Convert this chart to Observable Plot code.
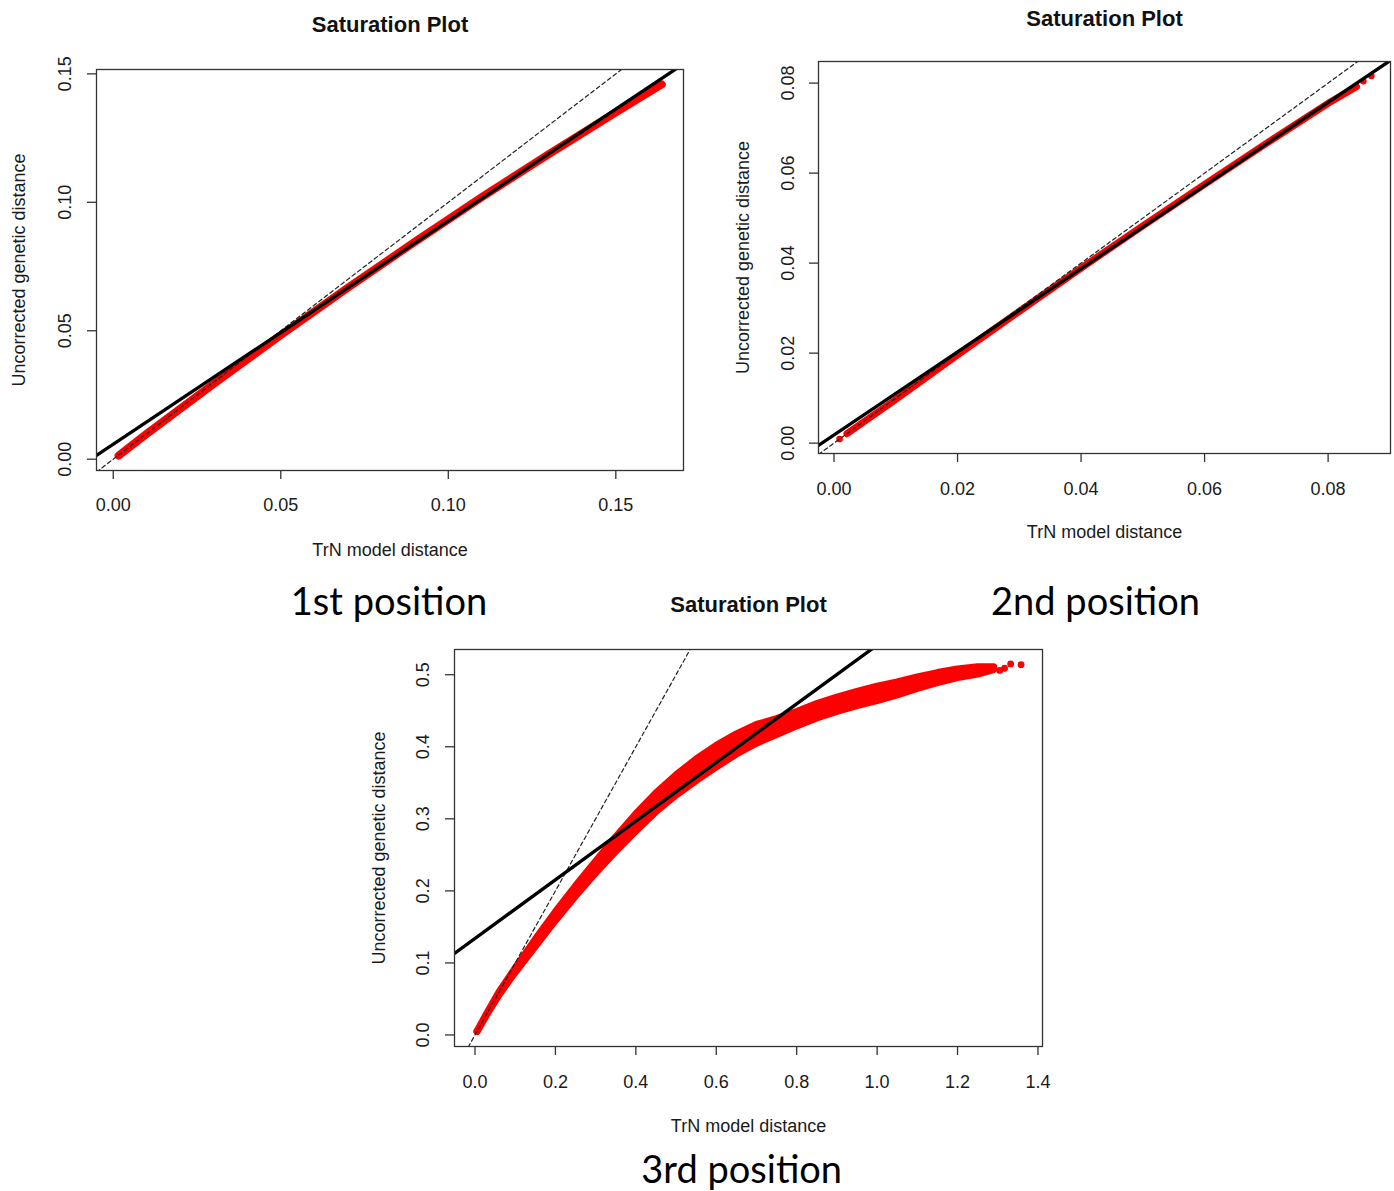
<!DOCTYPE html>
<html>
<head>
<meta charset="utf-8">
<script src="https://cdn.jsdelivr.net/npm/d3@7"></script>
<script src="https://cdn.jsdelivr.net/npm/@observablehq/plot@0.6"></script>
<style>
  body { margin: 0; background: #fff; }
  #page { position: relative; width: 1394px; height: 1191px; overflow: hidden; background: #fff; }
  #page > svg, #page > figure { position: absolute; margin: 0; }
</style>
</head>
<body>
<div id="page"></div>
<script>
// ---- 1st codon position: TrN distance vs uncorrected p-distance ----
const p1XTicks = [0, 0.05, 0.10, 0.15];
const p1YTicks = [0, 0.05, 0.10, 0.15];
const p1Dist = [0.0016, 0.01, 0.03, 0.05, 0.07, 0.09, 0.11, 0.13, 0.15, 0.1637];
const p1P    = [0.0014, 0.0099, 0.0294, 0.0483, 0.0667, 0.0846, 0.1020, 0.1188, 0.1350, 0.1459];
const p1Fit  = [0.0058, 0.870];          // regression intercept, slope

// ---- 2nd codon position ----
const p2XTicks = [0, 0.02, 0.04, 0.06, 0.08];
const p2YTicks = [0, 0.02, 0.04, 0.06, 0.08];
const p2Dist = [0.0021, 0.01, 0.02, 0.03, 0.04, 0.05, 0.06, 0.07, 0.08, 0.0846];
const p2P    = [0.0021, 0.0097, 0.0196, 0.0293, 0.0389, 0.0483, 0.0575, 0.0666, 0.0755, 0.0792];
const p2LooseDist = [0.0009, 0.0857, 0.0870];
const p2LooseP    = [0.0009, 0.0804, 0.0816];
const p2Fit  = [0.0018, 0.924];

// ---- 3rd codon position (dense cloud: lower / upper edge of the point band) ----
const p3XTicks = [0, 0.2, 0.4, 0.6, 0.8, 1.0, 1.2, 1.4];
const p3YTicks = [0, 0.1, 0.2, 0.3, 0.4, 0.5];
const p3Dist = [0.005, 0.03, 0.06, 0.10, 0.15, 0.20, 0.25, 0.30, 0.35, 0.40, 0.45, 0.50, 0.55, 0.60,
                0.65, 0.70, 0.75, 0.80, 0.85, 0.90, 0.95, 1.00, 1.05, 1.10, 1.15, 1.20, 1.25, 1.29];
const p3Lo   = [0.005, 0.029, 0.056, 0.087, 0.123, 0.159, 0.193, 0.225, 0.255, 0.283, 0.310, 0.333, 0.353, 0.372,
                0.390, 0.405, 0.417, 0.429, 0.440, 0.449, 0.457, 0.464, 0.472, 0.481, 0.489, 0.496, 0.501, 0.507];
const p3Hi   = [0.005, 0.031, 0.060, 0.093, 0.133, 0.171, 0.207, 0.241, 0.275, 0.307, 0.336, 0.361, 0.383, 0.402,
                0.418, 0.431, 0.439, 0.449, 0.460, 0.469, 0.477, 0.484, 0.490, 0.497, 0.503, 0.508, 0.511, 0.511];
const p3LooseDist = [1.305, 1.317, 1.332, 1.358];
const p3LooseP    = [0.506, 0.509, 0.515, 0.514];
const p3Fit  = [0.134, 0.407];

const oneToOne = [0, 1];                  // y = x reference line

const captions = ["1st position", "2nd position", "3rd position"];

const FONT = '"Liberation Sans", Arial, Helvetica, sans-serif';
const RED = "#ff0000";
const INK = "#1a1a1a";
const fmt2 = d3.format(".2f");
const fmt1 = d3.format(".1f");

const rows = (xs, ys) => xs.map((x, i) => ({x, y: ys[i]}));
const ablineRows = (fit, dom) => dom.map(x => ({x, y: fit[0] + fit[1] * x}));

function refLines(fit, xDomain) {
  return [
    Plot.line(ablineRows(oneToOne, xDomain), {x: "x", y: "y", stroke: "#222", strokeWidth: 1.2, strokeDasharray: "4,3", clip: true}),
    Plot.line(ablineRows(fit, xDomain), {x: "x", y: "y", stroke: "#000", strokeWidth: 3.3, clip: true})
  ];
}

function saturationPanel(o) {
  const chart = Plot.plot({
    width: o.ml + o.fw + o.mr,
    height: o.mt + o.fh + o.mb,
    marginLeft: o.ml, marginRight: o.mr, marginTop: o.mt, marginBottom: o.mb,
    x: {domain: o.xDomain},
    y: {domain: o.yDomain},
    style: {fontFamily: FONT, fontSize: "18px", color: INK, background: "transparent", overflow: "visible"},
    marks: [
      ...o.marks,
      ...refLines(o.fit, o.xDomain),
      Plot.frame({stroke: "#333", strokeWidth: 1.3}),
      Plot.axisX(o.xTicks, {tickSize: 9, tickFormat: () => "", label: null, stroke: "#333", strokeWidth: 1.3}),
      Plot.axisY(o.yTicks, {tickSize: 9, tickFormat: () => "", label: null, stroke: "#333", strokeWidth: 1.3}),
      Plot.text(o.xTicks, {x: d => d, text: o.xFmt, frameAnchor: "bottom", dy: o.xTickGap,
        textAnchor: "middle", lineAnchor: "bottom", fontSize: 18, fill: INK}),
      Plot.text(o.yTicks, {y: d => d, text: o.yFmt, frameAnchor: "left", dx: -o.yTickGap, rotate: -90,
        textAnchor: "middle", lineAnchor: "bottom", fontSize: 18, fill: INK}),
      Plot.text(["Saturation Plot"], {frameAnchor: "top", dy: -o.titleGap, textAnchor: "middle",
        lineAnchor: "bottom", fontWeight: "bold", fontSize: 22, fill: "#111"}),
      Plot.text(["TrN model distance"], {frameAnchor: "bottom", dy: o.xLabelGap, textAnchor: "middle",
        lineAnchor: "bottom", fontSize: 18, fill: INK}),
      Plot.text(["Uncorrected genetic distance"], {frameAnchor: "left", dx: -o.yLabelGap, rotate: -90,
        textAnchor: "middle", lineAnchor: "bottom", fontSize: 18, fill: INK})
    ]
  });
  chart.style.left = (o.left - o.ml) + "px";
  chart.style.top = (o.top - o.mt) + "px";
  document.getElementById("page").appendChild(chart);
}

// 1st position
const p1XDomain = [-0.0050, 0.1702];
saturationPanel({
  left: 96, top: 69, fw: 587, fh: 401, ml: 96, mt: 69, mr: 10, mb: 100,
  xDomain: p1XDomain, yDomain: [-0.0044, 0.1517],
  xTicks: p1XTicks, yTicks: p1YTicks, xFmt: fmt2, yFmt: fmt2, fit: p1Fit,
  titleGap: 38, xTickGap: 40, yTickGap: 26, xLabelGap: 85, yLabelGap: 72,
  marks: [
    Plot.line(rows(p1Dist, p1P), {x: "x", y: "y", stroke: RED, strokeWidth: 8, strokeLinecap: "round", strokeLinejoin: "round"})
  ]
});

// 2nd position
const p2XDomain = [-0.00251, 0.0901];
saturationPanel({
  left: 818, top: 61, fw: 572, fh: 392, ml: 90, mt: 61, mr: 4, mb: 100,
  xDomain: p2XDomain, yDomain: [-0.0023, 0.0848],
  xTicks: p2XTicks, yTicks: p2YTicks, xFmt: fmt2, yFmt: fmt2, fit: p2Fit,
  titleGap: 36, xTickGap: 41, yTickGap: 25, xLabelGap: 84, yLabelGap: 70,
  marks: [
    Plot.line(rows(p2Dist, p2P), {x: "x", y: "y", stroke: RED, strokeWidth: 7, strokeLinecap: "round", strokeLinejoin: "round"}),
    Plot.dot(rows(p2LooseDist, p2LooseP), {x: "x", y: "y", r: 3.3, fill: RED})
  ]
});

// 3rd position
const p3XDomain = [-0.051, 1.4113];
const p3Band = p3Dist.map((x, i) => ({x, lo: p3Lo[i], hi: p3Hi[i]}));
saturationPanel({
  left: 454, top: 649, fw: 588, fh: 397, ml: 100, mt: 60, mr: 10, mb: 100,
  xDomain: p3XDomain, yDomain: [-0.016, 0.535],
  xTicks: p3XTicks, yTicks: p3YTicks, xFmt: fmt1, yFmt: fmt1, fit: p3Fit,
  titleGap: 38, xTickGap: 41, yTickGap: 26, xLabelGap: 85, yLabelGap: 70,
  marks: [
    Plot.areaY(p3Band, {x: "x", y1: "lo", y2: "hi", fill: RED}),
    Plot.line(p3Band, {x: "x", y: "lo", stroke: RED, strokeWidth: 7, strokeLinecap: "round", strokeLinejoin: "round"}),
    Plot.line(p3Band, {x: "x", y: "hi", stroke: RED, strokeWidth: 7, strokeLinecap: "round", strokeLinejoin: "round"}),
    Plot.dot(rows(p3LooseDist, p3LooseP), {x: "x", y: "y", r: 3.4, fill: RED})
  ]
});

// Panel captions
const overlay = d3.select("#page").append("svg")
  .attr("width", 1394).attr("height", 1191)
  .style("left", "0px").style("top", "0px").style("pointer-events", "none");
const capPos = [[389, 615], [1095.5, 615], [741.7, 1183]];
overlay.selectAll("text").data(captions).join("text")
  .attr("x", (d, i) => capPos[i][0])
  .attr("y", (d, i) => capPos[i][1])
  .attr("text-anchor", "middle")
  .attr("font-family", 'Lato, "Open Sans", sans-serif')
  .attr("font-size", 38)
  .attr("fill", "#000")
  .text(d => d);
</script>
</body>
</html>
